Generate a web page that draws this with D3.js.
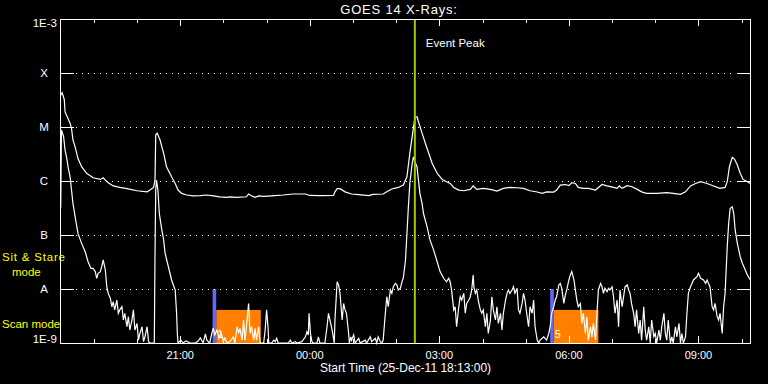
<!DOCTYPE html>
<html>
<head>
<meta charset="utf-8">
<script src="https://cdn.jsdelivr.net/npm/d3@7"></script>
<style>
  body { margin: 0; background: #000; }
  svg { display: block; }
  text { font-family: "Liberation Sans", Arial, sans-serif; }
</style>
</head>
<body>
<div class="svg-container"></div>
<script>

/*** Data ***/

// time is minutes after 25-Dec-11 18:13:00 UTC, flux in W/m^2
const startTime = new Date(Date.UTC(2011, 11, 25, 18, 13))
const spanMinutes = 960

const yTickValues = [1e-9, 1e-8, 1e-7, 1e-6, 1e-5, 1e-4, 1e-3]
const yTickLabels = ["1E-9", "A", "B", "C", "M", "X", "1E-3"]

// long channel (1-8 A), upper curve
const longSeries = [
    [1, 3.9e-5], [3, 4.3e-5], [6, 3.2e-5], [7, 1.9e-5], [10, 1.55e-5], [14, 1.17e-5], [16, 9.4e-6], [18, 5.75e-6], [21, 4.3e-6], [25, 2.6e-6],
    [30, 1.84e-6], [37, 1.39e-6], [46, 1.15e-6], [56, 1.07e-6], [60, 1.15e-6], [63, 1.04e-6], [67, 9.3e-7], [74, 8.1e-7], [83, 7.6e-7], [93, 7.2e-7],
    [107, 6.6e-7], [121, 6.3e-7], [125, 6.8e-7], [130, 7.6e-7], [132, 1.04e-6], [133, 7.1e-6], [135, 7.7e-6], [139, 5.75e-6], [144, 3.25e-6], [148, 1.84e-6],
    [155, 1.2e-6], [160, 9.0e-7], [164, 6.8e-7], [169, 5.9e-7], [176, 5.5e-7], [185, 5.3e-7], [195, 5.35e-7], [204, 5.5e-7], [213, 5.3e-7], [222, 5.1e-7],
    [232, 4.97e-7], [236, 5.1e-7], [246, 4.97e-7], [259, 5.1e-7], [262, 5.75e-7], [266, 5.35e-7], [271, 4.97e-7], [276, 5.3e-7], [283, 5.2e-7], [294, 5.3e-7],
    [310, 5.5e-7], [324, 5.75e-7], [341, 5.75e-7], [347, 5.4e-7], [361, 5.35e-7], [380, 5.4e-7], [382, 6.3e-7], [385, 7.2e-7], [389, 7.2e-7], [396, 6.3e-7],
    [405, 5.75e-7], [415, 5.6e-7], [429, 5.35e-7], [435, 5.67e-7], [449, 5.75e-7], [454, 6.3e-7], [461, 7.1e-7], [470, 7.6e-7], [477, 8.4e-7], [482, 1.2e-6],
    [486, 3.25e-6], [490, 7.7e-6], [493, 1.5e-5], [496, 1.55e-5], [498, 1.25e-5], [503, 7.7e-6], [510, 4.0e-6], [517, 2.13e-6], [524, 1.39e-6], [531, 1.07e-6],
    [537, 9.7e-7], [542, 9.0e-7], [547, 7.6e-7], [554, 6.8e-7], [561, 6.6e-7], [570, 7.0e-7], [574, 8.1e-7], [579, 7.0e-7], [588, 7.3e-7], [598, 7.0e-7],
    [607, 6.5e-7], [616, 7.3e-7], [625, 7.6e-7], [635, 7.5e-7], [644, 7.3e-7], [653, 6.6e-7], [663, 6.25e-7], [670, 5.9e-7], [676, 6.3e-7], [686, 6.25e-7],
    [690, 6.8e-7], [695, 8.4e-7], [702, 8.6e-7], [707, 8.2e-7], [711, 9.3e-7], [716, 9.0e-7], [720, 7.6e-7], [727, 7.3e-7], [734, 7.3e-7], [744, 6.8e-7],
    [753, 8.6e-7], [760, 8.1e-7], [769, 7.6e-7], [774, 7.3e-7], [777, 8.1e-7], [781, 7.3e-7], [788, 8.2e-7], [794, 7.9e-7], [802, 7.0e-7], [808, 6.3e-7],
    [815, 5.9e-7], [829, 5.9e-7], [843, 6.1e-7], [852, 5.9e-7], [862, 5.67e-7], [869, 6.3e-7], [876, 8.1e-7], [883, 9.0e-7], [890, 9.7e-7], [899, 9.0e-7],
    [908, 8.1e-7], [917, 7.3e-7], [924, 7.6e-7], [927, 9.7e-7], [930, 1.84e-6], [934, 2.75e-6], [937, 2.55e-6], [941, 1.98e-6], [945, 1.39e-6], [949, 1.07e-6],
    [955, 9.7e-7], [959, 9.0e-7]
]

// short channel (0.5-4 A), lower curve
const shortSeries = [
    [1, 3.2e-7], [2, 8.8e-6], [5, 6.6e-6], [7, 3.75e-6], [9, 2.8e-6], [12, 1.6e-6], [14, 1.2e-6], [16, 6.8e-7], [18, 3.86e-7], [21, 2.18e-7],
    [25, 1.07e-7], [30, 7.0e-8], [35, 4.9e-8], [39, 3.2e-8], [43, 2.4e-8], [46, 2.4e-8], [49, 2.1e-8], [51, 1.58e-8], [53, 1.95e-8], [56, 2.1e-8],
    [58, 2.6e-8], [60, 3.45e-8], [63, 2.25e-8], [65, 1.1e-8], [67, 8.3e-9], [70, 6.7e-9], [72, 4.7e-9], [74, 5.8e-9], [76, 4.1e-9], [79, 6.25e-9],
    [81, 3.55e-9], [83, 4.1e-9], [86, 4.7e-9], [88, 2.67e-9], [90, 3.55e-9], [93, 2.0e-9], [95, 3.07e-9], [97, 1.74e-9], [100, 2.67e-9], [102, 4.1e-9],
    [104, 1.74e-9], [107, 2.3e-9], [109, 1.13e-9], [111, 1.5e-9], [114, 2.0e-9], [116, 1.06e-9], [118, 1.3e-9], [121, 2.0e-9], [123, 1.06e-9], [125, 1e-9],
    [131, 1e-9], [132, 4.6e-8], [133, 6.8e-7], [134, 1.04e-6], [136, 6.8e-7], [138, 2.5e-7], [141, 1.35e-7], [144, 8.1e-8], [146, 4.6e-8], [151, 2.45e-8],
    [155, 1.47e-8], [160, 9.6e-9], [162, 3.55e-9], [163, 1.5e-9], [164, 1e-9], [168, 1.13e-9], [171, 1e-9], [175, 1.09e-9], [181, 1e-9], [188, 1e-9],
    [192, 1.09e-9], [195, 1.24e-9], [199, 1e-9], [202, 1.47e-9], [204, 1.13e-9], [208, 1e-9], [211, 1.53e-9], [213, 1.9e-9], [215, 1.41e-9], [218, 1.74e-9],
    [221, 1.24e-9], [224, 1.53e-9], [227, 1.09e-9], [229, 1.24e-9], [232, 1e-9], [236, 1.06e-9], [241, 1.3e-9], [243, 1e-9], [246, 2.0e-9], [248, 1.5e-9],
    [250, 1.87e-9], [253, 1.13e-9], [255, 2.67e-9], [257, 1.13e-9], [259, 2.0e-9], [262, 5.4e-9], [264, 1.5e-9], [266, 2.0e-9], [269, 1.13e-9], [271, 1.87e-9],
    [273, 1.13e-9], [276, 2.0e-9], [278, 1e-9], [283, 1e-9], [285, 1.74e-9], [287, 4.1e-9], [289, 2.0e-9], [290, 1e-9], [294, 1e-9], [297, 1.13e-9],
    [299, 1.06e-9], [301, 1.22e-9], [303, 1e-9], [317, 1e-9], [320, 1.13e-9], [322, 1e-9], [327, 1.06e-9], [329, 1e-9], [336, 1.06e-9], [341, 1.3e-9],
    [343, 1.62e-9], [345, 1.41e-9], [346, 3.55e-9], [348, 1.5e-9], [350, 1.06e-9], [352, 1e-9], [357, 1e-9], [359, 1.3e-9], [361, 1e-9], [368, 1e-9],
    [371, 2.0e-9], [373, 3.55e-9], [375, 2.67e-9], [378, 1.74e-9], [380, 1.22e-9], [381, 1e-9], [382, 2.67e-9], [385, 1.36e-8], [387, 1.19e-8], [389, 8.3e-9],
    [392, 2.67e-9], [394, 5.4e-9], [396, 4.1e-9], [398, 3.55e-9], [401, 1.5e-9], [402, 1e-9], [404, 1.3e-9], [405, 1.13e-9], [408, 1.41e-9], [410, 1e-9],
    [415, 1.22e-9], [417, 1e-9], [424, 1.13e-9], [426, 1e-9], [431, 1.3e-9], [433, 1.06e-9], [438, 1.22e-9], [440, 1e-9], [442, 1.3e-9], [445, 1.06e-9],
    [447, 1e-9], [449, 1.13e-9], [452, 3.55e-9], [454, 7.2e-9], [456, 4.7e-9], [459, 9.6e-9], [461, 8.3e-9], [463, 1.1e-8], [466, 1.27e-8], [468, 1.19e-8],
    [470, 9.6e-9], [473, 1.04e-8], [475, 1.35e-8], [477, 1.6e-8], [480, 3.45e-8], [482, 1.07e-7], [484, 3.34e-7], [486, 9.0e-7], [489, 1.98e-6], [491, 2.8e-6],
    [493, 2.28e-6], [496, 1.84e-6], [498, 1.04e-6], [500, 5.9e-7], [503, 3.86e-7], [505, 2.5e-7], [510, 1.42e-7], [514, 8.1e-8], [519, 5.3e-8], [524, 3.2e-8],
    [528, 2.1e-8], [533, 1.58e-8], [537, 1.36e-8], [540, 1.58e-8], [542, 1.36e-8], [544, 9.6e-9], [547, 4.1e-9], [549, 4.7e-9], [551, 2.0e-9], [554, 4.7e-9],
    [556, 7.2e-9], [558, 6.25e-9], [561, 8.3e-9], [563, 3.55e-9], [565, 5.4e-9], [568, 6.25e-9], [570, 7.2e-9], [572, 9.6e-9], [574, 1.82e-8], [575, 1.1e-8],
    [577, 8.3e-9], [579, 9.6e-9], [581, 6.25e-9], [584, 4.1e-9], [586, 3.55e-9], [588, 4.1e-9], [591, 2.0e-9], [593, 3.55e-9], [595, 1.5e-9], [598, 2.67e-9],
    [600, 7.2e-9], [602, 4.1e-9], [605, 2.67e-9], [607, 4.7e-9], [609, 2.3e-9], [612, 3.55e-9], [614, 1.74e-9], [616, 3.55e-9], [619, 6.25e-9], [621, 8.3e-9],
    [623, 9.6e-9], [625, 8.3e-9], [628, 9.6e-9], [630, 1.1e-8], [632, 8.3e-9], [635, 1.03e-8], [637, 4.1e-9], [639, 3.55e-9], [642, 5.4e-9], [644, 8.3e-9],
    [646, 6.25e-9], [649, 3.07e-9], [651, 2.0e-9], [653, 4.7e-9], [656, 3.55e-9], [658, 6.25e-9], [660, 2.0e-9], [663, 1.13e-9], [665, 1e-9], [667, 1.13e-9],
    [672, 1.3e-9], [676, 1.13e-9], [679, 1.5e-9], [681, 2.0e-9], [683, 3.55e-9], [686, 4.7e-9], [688, 6.25e-9], [690, 7.2e-9], [693, 1.19e-8], [695, 1.27e-8],
    [697, 1.04e-8], [700, 5.4e-9], [702, 7.7e-9], [704, 9.6e-9], [707, 1.47e-8], [709, 1.82e-8], [711, 2.1e-8], [714, 1.47e-8], [716, 9.6e-9], [718, 6.25e-9],
    [720, 4.7e-9], [723, 5.4e-9], [725, 2.3e-9], [727, 3.55e-9], [730, 1.5e-9], [732, 3.07e-9], [734, 1.13e-9], [737, 2.0e-9], [739, 1.3e-9], [741, 2.3e-9],
    [744, 1.13e-9], [746, 3.55e-9], [748, 9.6e-9], [751, 1.27e-8], [753, 1.1e-8], [755, 8.3e-9], [757, 1.03e-8], [760, 8.9e-9], [762, 1.03e-8], [764, 9.6e-9],
    [767, 1.1e-8], [769, 7.2e-9], [771, 3.55e-9], [774, 6.25e-9], [776, 2.0e-9], [778, 9.6e-9], [781, 4.7e-9], [783, 7.2e-9], [785, 1.1e-8], [788, 1.19e-8],
    [790, 9.6e-9], [792, 8.3e-9], [794, 5.4e-9], [797, 3.55e-9], [799, 2.0e-9], [801, 4.1e-9], [804, 1.5e-9], [806, 2.67e-9], [808, 1.13e-9], [811, 4.7e-9],
    [813, 1.74e-9], [815, 1.13e-9], [818, 2.0e-9], [820, 1e-9], [822, 2.67e-9], [825, 1.3e-9], [827, 1.5e-9], [829, 1e-9], [832, 1.74e-9], [834, 1.13e-9],
    [836, 2.0e-9], [839, 3.55e-9], [841, 1.5e-9], [843, 1.13e-9], [845, 2.67e-9], [848, 1e-9], [850, 1.3e-9], [852, 1e-9], [855, 2.0e-9], [857, 1.3e-9],
    [860, 2.3e-9], [862, 1e-9], [864, 1.5e-9], [866, 1e-9], [869, 1.3e-9], [871, 3.55e-9], [873, 8.3e-9], [876, 1.1e-8], [878, 1.27e-8], [880, 1.47e-8],
    [885, 1.69e-8], [887, 1.95e-8], [890, 1.58e-8], [894, 1.47e-8], [897, 1.27e-8], [899, 1.47e-8], [901, 1.27e-8], [903, 1.1e-8], [906, 4.7e-9], [908, 4.1e-9],
    [910, 5.4e-9], [913, 3.07e-9], [915, 2.67e-9], [917, 3.55e-9], [920, 1.5e-9], [922, 4.7e-9], [924, 8.3e-9], [927, 6.1e-8], [929, 1.65e-7], [931, 3.1e-7],
    [934, 3.34e-7], [936, 2.5e-7], [938, 1.24e-7], [941, 7.0e-8], [943, 5.3e-8], [945, 3.96e-8], [948, 3.0e-8], [950, 2.6e-8], [952, 2.25e-8], [955, 1.82e-8],
    [959, 1.47e-8]
]

const eventPeakMinute = 493

// scan windows: [start, end] minutes; blue marker then orange block
const scanMarkers = [[212, 217], [681, 686]]
const scanBlocks = [[217, 279], [686, 748]]
const scanLabels = ["1", "5"]
const scanMarkerTop = 1e-8
const scanBlockTop = 4.1e-9

/*** Layout ***/

const svgWidth = 768
const svgHeight = 384
const plotLeft = 60
const plotRight = 751
const plotTop = 19
const plotBottom = 343

const toDate = (m) => new Date(startTime.getTime() + m * 60000)

let svg = d3.select(".svg-container")
    .append("svg")
    .attr("width", svgWidth)
    .attr("height", svgHeight)
    .style("background-color", "black")

/* Scales */

let xScale = d3.scaleUtc()
    .domain([startTime, toDate(spanMinutes)])
    .range([plotLeft, plotRight])

let yScale = d3.scaleLog()
    .domain([1e-9, 1e-3])
    .range([plotBottom, plotTop])

const px = (v) => Math.round(v) + 0.5

/* Scan windows (behind the curves) */

svg.append("g").selectAll("rect")
    .data(scanBlocks)
    .enter()
    .append("rect")
    .attr("x", (d) => xScale(toDate(d[0])))
    .attr("y", yScale(scanBlockTop))
    .attr("width", (d) => xScale(toDate(d[1])) - xScale(toDate(d[0])))
    .attr("height", plotBottom - yScale(scanBlockTop))
    .attr("fill", "#ff8000")

svg.append("g").selectAll("rect")
    .data(scanMarkers)
    .enter()
    .append("rect")
    .attr("x", (d) => xScale(toDate(d[0])))
    .attr("y", yScale(scanMarkerTop))
    .attr("width", (d) => xScale(toDate(d[1])) - xScale(toDate(d[0])))
    .attr("height", plotBottom - yScale(scanMarkerTop))
    .attr("fill", "#6666ff")

svg.append("g").selectAll("text")
    .data(scanBlocks)
    .enter()
    .append("text")
    .attr("x", (d) => xScale(toDate(d[0])) + 1)
    .attr("y", 338)
    .attr("fill", "white")
    .style("font-size", "11px")
    .text((d, i) => scanLabels[i])

/* Grid: dotted lines and decade ticks */

let grid = svg.append("g").attr("shape-rendering", "crispEdges")

const innerTicks = yTickValues.slice(1, -1)

grid.selectAll("line.dots")
    .data(innerTicks)
    .enter()
    .append("line")
    .attr("x1", plotLeft + 16)
    .attr("x2", plotRight - 15)
    .attr("y1", (d) => px(yScale(d)))
    .attr("y2", (d) => px(yScale(d)))
    .attr("stroke", "white")
    .attr("stroke-dasharray", "1,5")

grid.selectAll("line.ltick")
    .data(innerTicks)
    .enter()
    .append("line")
    .attr("x1", plotLeft)
    .attr("x2", plotLeft + 14)
    .attr("y1", (d) => px(yScale(d)))
    .attr("y2", (d) => px(yScale(d)))
    .attr("stroke", "white")

grid.selectAll("line.rtick")
    .data(innerTicks)
    .enter()
    .append("line")
    .attr("x1", plotRight - 14)
    .attr("x2", plotRight)
    .attr("y1", (d) => px(yScale(d)))
    .attr("y2", (d) => px(yScale(d)))
    .attr("stroke", "white")

/* Hour ticks top and bottom */

let hours = xScale.ticks(d3.utcHour.every(1))
    .filter((d) => xScale(d) > plotLeft + 1 && xScale(d) < plotRight - 1)
const tickLen = (d) => d.getUTCHours() % 3 === 0 ? 7 : 4

grid.selectAll("line.ttick")
    .data(hours)
    .enter()
    .append("line")
    .attr("x1", (d) => px(xScale(d)))
    .attr("x2", (d) => px(xScale(d)))
    .attr("y1", plotTop)
    .attr("y2", (d) => plotTop + tickLen(d))
    .attr("stroke", "white")

grid.selectAll("line.btick")
    .data(hours)
    .enter()
    .append("line")
    .attr("x1", (d) => px(xScale(d)))
    .attr("x2", (d) => px(xScale(d)))
    .attr("y1", plotBottom)
    .attr("y2", (d) => plotBottom - tickLen(d))
    .attr("stroke", "white")

svg.append("g").selectAll("text")
    .data(hours.filter((d) => d.getUTCHours() % 3 === 0))
    .enter()
    .append("text")
    .attr("x", (d) => xScale(d))
    .attr("y", 358.5)
    .attr("fill", "white")
    .style("text-anchor", "middle")
    .style("font-size", "11px")
    .text((d) => d3.utcFormat("%H:%M")(d))

/* Curves */

let line = d3.line()
    .x((d) => xScale(toDate(d[0])))
    .y((d) => yScale(Math.max(1e-9, d[1])))

svg.append("path")
    .datum(longSeries)
    .attr("d", line)
    .attr("fill", "none")
    .attr("stroke", "white")
    .attr("stroke-width", 1.2)

svg.append("path")
    .datum(shortSeries)
    .attr("d", line)
    .attr("fill", "none")
    .attr("stroke", "white")
    .attr("stroke-width", 1.2)

/* Event peak */

svg.append("line")
    .attr("x1", xScale(toDate(eventPeakMinute)))
    .attr("x2", xScale(toDate(eventPeakMinute)))
    .attr("y1", plotTop)
    .attr("y2", plotBottom)
    .attr("stroke", "#99cc00")
    .attr("stroke-width", 2)

svg.append("text")
    .attr("x", xScale(toDate(eventPeakMinute)) + 11)
    .attr("y", 46.5)
    .attr("fill", "white")
    .style("font-size", "11.5px")
    .text("Event Peak")

/* Frame */

svg.append("rect")
    .attr("x", plotLeft + 0.5)
    .attr("y", plotTop + 0.5)
    .attr("width", plotRight - plotLeft - 1)
    .attr("height", plotBottom - plotTop)
    .attr("fill", "none")
    .attr("stroke", "white")
    .attr("shape-rendering", "crispEdges")

/* Y labels */

svg.append("g").selectAll("text")
    .data(yTickValues)
    .enter()
    .append("text")
    .attr("x", (d, i) => (i === 0 || i === yTickValues.length - 1) ? 57 : 44)
    .attr("y", (d, i) => i === 0 ? plotBottom : i === yTickValues.length - 1 ? plotTop + 8 : yScale(d) + 4)
    .attr("fill", "white")
    .style("text-anchor", (d, i) => (i === 0 || i === yTickValues.length - 1) ? "end" : "middle")
    .style("font-size", "11.5px")
    .text((d, i) => yTickLabels[i])

/* Titles */

svg.append("text")
    .attr("x", 399)
    .attr("y", 13.5)
    .attr("fill", "white")
    .style("text-anchor", "middle")
    .style("font-size", "13px")
    .style("letter-spacing", "0.8px")
    .text("GOES 14 X-Rays:")

svg.append("text")
    .attr("x", (plotLeft + plotRight) / 2)
    .attr("y", 371.5)
    .attr("fill", "white")
    .style("text-anchor", "middle")
    .style("font-size", "12px")
    .text("Start Time (25-Dec-11 18:13:00)")

/* Mode labels */

let modes = svg.append("g")
    .attr("fill", "#ffff00")
    .style("font-size", "11.5px")

modes.append("text").attr("x", 2).attr("y", 261).style("letter-spacing", "0.8px").text("Sit & Stare")
modes.append("text").attr("x", 12).attr("y", 275.5).text("mode")
modes.append("text").attr("x", 2).attr("y", 327.5).text("Scan mode")

</script>
</body>
</html>
